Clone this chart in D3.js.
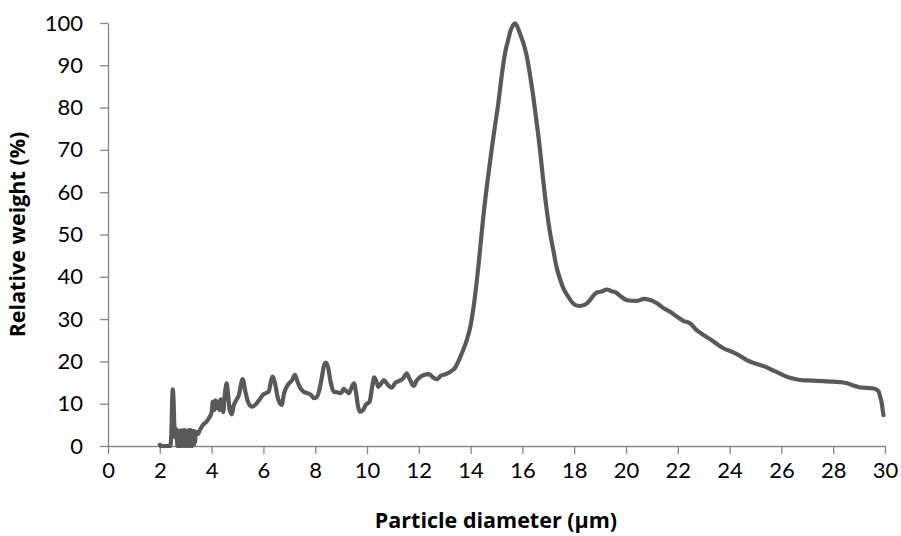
<!DOCTYPE html>
<html>
<head>
<meta charset="utf-8">
<script src="https://cdn.jsdelivr.net/npm/d3@7"></script>
<style>
  body { margin: 0; background: #fff; }
  svg { display: block; }
</style>
</head>
<body>
<div id="chart"></div>
<script>
// particle size distribution
const diameter = [
  2.0, 2.05, 2.4, 2.44, 2.48, 2.5, 2.53, 2.56, 2.6, 2.64, 2.68,
  2.7, 2.72, 2.74, 2.76, 2.78, 2.8, 2.82, 2.84, 2.86, 2.88, 2.9, 2.92, 2.94, 2.96, 2.98, 3.0,
  3.02, 3.04, 3.06, 3.08, 3.1, 3.12, 3.14, 3.16, 3.18, 3.2, 3.22, 3.24, 3.26, 3.28, 3.3, 3.32, 3.34, 3.36, 3.38, 3.4,
  3.46, 3.55, 3.67, 3.81, 3.9, 4.0, 4.05, 4.1, 4.15, 4.2, 4.25, 4.3, 4.35, 4.4, 4.45, 4.5, 4.58, 4.64, 4.7, 4.78, 4.85, 4.95,
  5.05, 5.2, 5.3, 5.4, 5.55, 5.7, 5.85, 6.0, 6.1, 6.2, 6.3, 6.36, 6.45, 6.55, 6.7, 6.8, 6.95,
  7.1, 7.22, 7.3, 7.4, 7.55, 7.7, 7.85, 7.95, 8.05, 8.15, 8.25, 8.35, 8.42, 8.5, 8.6, 8.72, 8.85,
  9.0, 9.1, 9.2, 9.3, 9.4, 9.5, 9.58, 9.65, 9.73, 9.85, 9.95, 10.1, 10.2, 10.28, 10.35, 10.44, 10.55, 10.65, 10.8, 10.95,
  11.1, 11.25, 11.4, 11.53, 11.65, 11.8, 11.92, 12.05, 12.2, 12.4, 12.55, 12.7, 12.85, 13.05, 13.2, 13.4, 13.55, 13.7, 13.85,
  14.0, 14.1, 14.3, 14.49, 14.65, 14.81, 14.95, 15.07, 15.2, 15.33, 15.45, 15.55, 15.65, 15.72, 15.8, 15.9,
  16.05, 16.17, 16.3, 16.42, 16.55, 16.68, 16.8, 16.94, 17.07, 17.19, 17.3, 17.45, 17.6, 17.75, 17.9,
  18.05, 18.22, 18.42, 18.61, 18.75, 18.87, 19.06, 19.25, 19.45, 19.6, 19.75, 19.9,
  20.09, 20.41, 20.7, 20.99, 21.18, 21.44, 21.76, 21.96, 22.21, 22.47, 22.73, 22.98, 23.24, 23.56, 23.76,
  24.08, 24.4, 24.66, 25.0, 25.43, 25.7, 25.95, 26.2, 26.4, 26.72, 27.0, 27.36, 27.7, 28.0, 28.39, 28.6, 28.78,
  29.0, 29.16, 29.4, 29.55, 29.68, 29.76, 29.82, 29.87, 29.91, 29.94
];
const weight = [
  0.3, 0, 0, 2, 11, 13.4, 11, 5, 2, 4, 0,
  3.2, 0.3, 3.6, 0, 3.3, 0.4, 3.7, 0, 3.1, 0.2, 3.5, 0, 3.8, 0.3, 3.2, 0,
  3.6, 0.2, 3.4, 0, 3.7, 0.3, 3.2, 0, 3.8, 0.4, 3.5, 0, 3.3, 0.5, 3.6, 0.3, 3.0, 0.8, 3.2, 3.4,
  2.8, 3.8, 5, 5.8, 6.6, 8, 10.5, 8.5, 10.8, 9, 10.5, 8.5, 11, 9, 8, 11.5, 14.8, 12, 8.5, 7.5, 9.5, 10.8,
  12, 15.8, 13, 10.5, 9.3, 9.8, 11, 12.2, 12.5, 12.8, 15.5, 16.4, 14.8, 11.5, 9.7, 12.5, 14.5,
  15.5, 16.8, 15.5, 14, 12.8, 12.5, 12, 11.3, 11.5, 13, 16, 19.2, 19.7, 18.5, 15, 12.8, 12.7,
  12.5, 13.5, 13, 12.5, 13.8, 14.8, 12.5, 9.5, 8.1, 8.5, 9.7, 10.5, 14, 16.2, 15.5, 14, 14.8, 15.6, 14.5, 13.8,
  15, 15.4, 16, 17.2, 15.8, 14.2, 15.5, 16.3, 16.8, 17, 16.2, 15.8, 16.6, 17, 17.5, 18.5, 20.3, 22.5, 25,
  28.5, 32.2, 42.4, 54.2, 62.5, 70, 76, 81, 87.5, 92.9, 96, 98.3, 99.6, 99.9, 99.2, 97.6,
  95, 92.1, 87.5, 82.6, 76.5, 70, 63, 55.8, 50.3, 46.4, 42.8, 39.5, 37, 35.5, 34.1,
  33.3, 33.1, 33.4, 34.5, 35.6, 36.3, 36.5, 37, 36.6, 36.3, 35.6, 34.9,
  34.4, 34.3, 34.8, 34.4, 33.8, 32.6, 31.5, 30.6, 29.6, 29, 27.4, 26.3, 25.3, 23.9, 23.1,
  22.3, 21.3, 20.3, 19.5, 18.6, 17.8, 17.1, 16.4, 16, 15.6, 15.5, 15.4, 15.3, 15.2, 15.0, 14.7, 14.3,
  13.9, 13.8, 13.7, 13.6, 13.3, 12.8, 11.5, 10.3, 8.5, 7.3
];
const xTicks = d3.range(0, 31, 2);
const yTicks = d3.range(0, 101, 10);

const width = 901, height = 536;
const marginLeft = 108, marginRight = 16, marginTop = 23, marginBottom = 90;
const axisColor = "#868686";
const font = "Lato, 'Open Sans', sans-serif";
const titleFont = "'Open Sans', Lato, sans-serif";

const x = d3.scaleLinear([0, 30], [marginLeft, width - marginRight]);
const y = d3.scaleLinear([0, 100], [height - marginBottom, marginTop]);

const svg = d3.select("#chart").append("svg")
    .attr("width", width)
    .attr("height", height)
    .attr("viewBox", [0, 0, width, height]);

// y axis
svg.append("g")
    .attr("transform", `translate(${marginLeft},0)`)
    .call(d3.axisLeft(y).tickValues(yTicks).tickSize(8).tickPadding(17).tickSizeOuter(0))
    .call(g => g.select(".domain").attr("stroke", axisColor).attr("stroke-width", 1.3))
    .call(g => g.selectAll(".tick line").attr("stroke", axisColor).attr("stroke-width", 1.3))
    .call(g => g.selectAll(".tick text")
        .attr("fill", "#000")
        .attr("font-family", font)
        .attr("font-size", 22));

// x axis
svg.append("g")
    .attr("transform", `translate(0,${height - marginBottom})`)
    .call(d3.axisBottom(x).tickValues(xTicks).tickSize(8).tickPadding(8).tickSizeOuter(0))
    .call(g => g.select(".domain").attr("stroke", axisColor).attr("stroke-width", 1.3))
    .call(g => g.selectAll(".tick line").attr("stroke", axisColor).attr("stroke-width", 1.3))
    .call(g => g.selectAll(".tick text")
        .attr("fill", "#000")
        .attr("font-family", font)
        .attr("font-size", 22));

// axis titles
svg.append("text")
    .attr("transform", `translate(25,${(marginTop + height - marginBottom) / 2}) rotate(-90)`)
    .attr("text-anchor", "middle")
    .attr("font-family", titleFont)
    .attr("font-weight", "bold")
    .attr("font-size", 21.5)
    .text("Relative weight (%)");

svg.append("text")
    .attr("x", 496)
    .attr("y", 528)
    .attr("text-anchor", "middle")
    .attr("font-family", titleFont)
    .attr("font-weight", "bold")
    .attr("font-size", 21.5)
    .text("Particle diameter (µm)");

// distribution curve
const line = d3.line()
    .x(i => x(diameter[i]))
    .y(i => y(weight[i]))
    .curve(d3.curveMonotoneX);

svg.append("path")
    .attr("d", line(d3.range(diameter.length)))
    .attr("fill", "none")
    .attr("stroke", "#595959")
    .attr("stroke-width", 4.2)
    .attr("stroke-linejoin", "round")
    .attr("stroke-linecap", "round");
</script>
</body>
</html>
